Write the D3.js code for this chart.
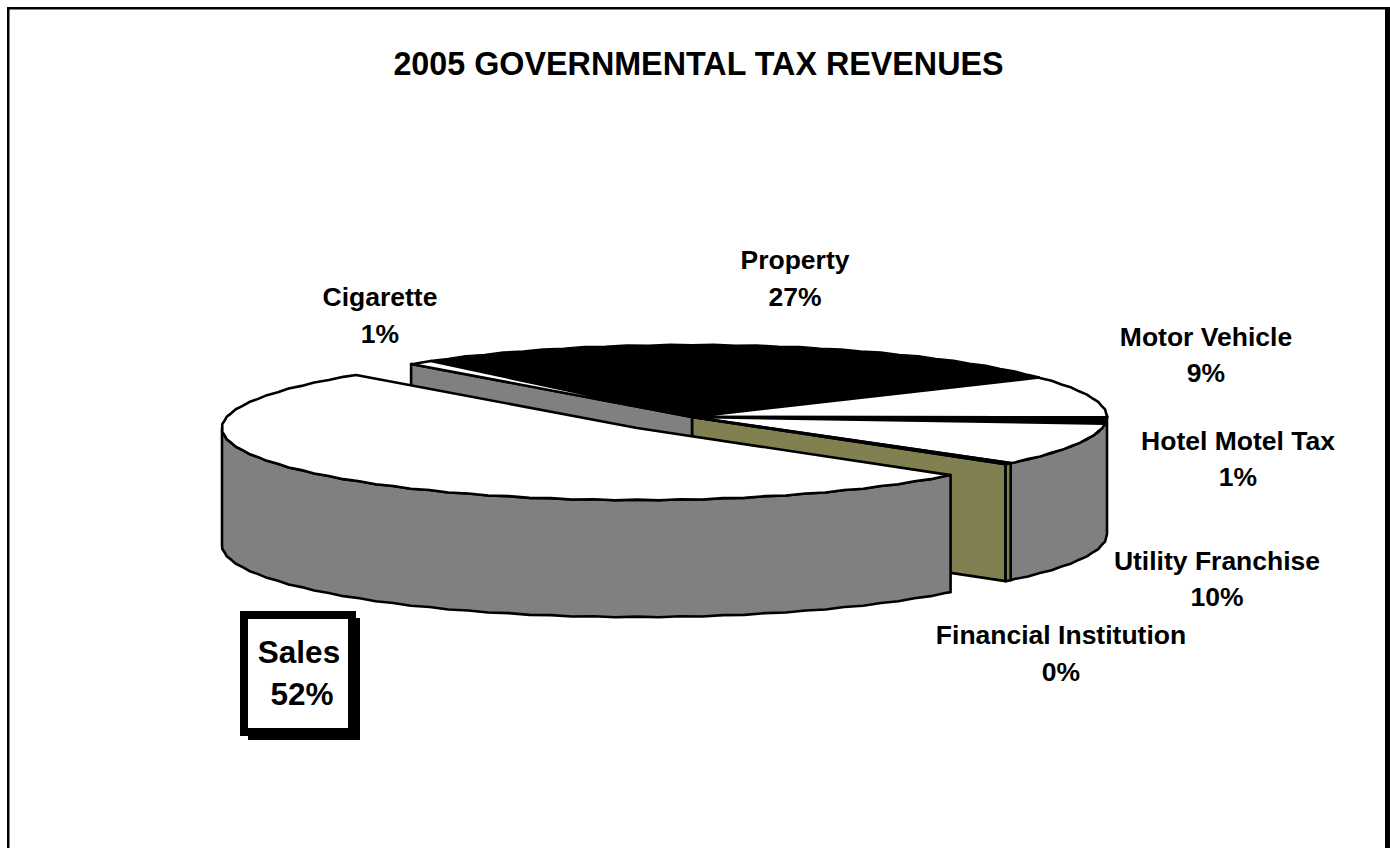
<!DOCTYPE html>
<html>
<head>
<meta charset="utf-8">
<title>2005 Governmental Tax Revenues</title>
<script src="https://cdn.jsdelivr.net/npm/d3@7/dist/d3.min.js"></script>
<style>
  html, body { margin: 0; padding: 0; background: #fff; overflow: hidden; }
  svg { display: block; }
  text { font-family: "Liberation Sans", Arial, sans-serif; font-weight: 700; fill: #000; }
</style>
</head>
<body>
<svg id="chart" width="1390" height="848"></svg>
<script>
// Revenue shares, in percent, clockwise from the Property slice
const categories = ["Property", "Motor Vehicle", "Hotel Motel Tax", "Utility Franchise", "Financial Institution", "Sales", "Cigarette"];
const shares = [26.6, 9.3, 1.4, 9.6, 0.3, 51.8, 1.0];
const chartTitle = "2005 GOVERNMENTAL TAX REVENUES";

// Slice styling, same order as the categories
const topColors = ["#000000", "#ffffff", "#000000", "#ffffff", "#ffffff", "#ffffff", "#ffffff"];
const sideColors = ["#000000", "#808080", "#808080", "#808080", "#808050", "#808080", "#808080"];
const explodedSlice = "Sales";

// Label layout: centre x and the baseline of each of the two lines
const labelLayout = new Map([
  ["Property", [795, 269, 306]],
  ["Motor Vehicle", [1206, 346, 382]],
  ["Hotel Motel Tax", [1238, 450, 486]],
  ["Utility Franchise", [1217, 570, 606]],
  ["Financial Institution", [1061, 644, 681]],
  ["Cigarette", [380, 306, 343]]
]);

const svg = d3.select("#chart");
const W = 1390, H = 848;

// Outer frame; the bottom edge falls beyond the page
svg.append("rect").attr("x", 7).attr("y", 7).attr("width", 2.5).attr("height", H).attr("fill", "#000");
svg.append("rect").attr("x", 7).attr("y", 7).attr("width", W).attr("height", 2.5).attr("fill", "#000");
svg.append("rect").attr("x", 1385).attr("y", 7).attr("width", 5).attr("height", H).attr("fill", "#000");

svg.append("text").attr("x", 698.5).attr("y", 75)
  .attr("text-anchor", "middle").style("font-size", "32.3px").text(chartTitle);

// Tilted pie geometry
const rx = 415, ry = 72, depth = 117;
const centre = { x: 692, y: 417 };
const explodeOffset = { x: -55, y: 11 };
const toRad = Math.PI / 180;

const pie = d3.pie().sort(null).value(d => d.share)
  .startAngle((231 + 90) * toRad).endAngle((231 + 90 + 360) * toRad);

const slices = pie(categories.map((name, i) => ({
  name, share: shares[i], top: topColors[i], side: sideColors[i]
}))).map(s => ({
  ...s,
  // screen angle in degrees, 0 at 3 o'clock, increasing clockwise
  a0: s.startAngle / toRad - 90,
  a1: s.endAngle / toRad - 90,
  origin: s.data.name === explodedSlice
    ? { x: centre.x + explodeOffset.x, y: centre.y + explodeOffset.y }
    : centre
}));

// Scales from the unit circle to the tilted ellipse of a slice's origin
const scaleX = o => d3.scaleLinear().domain([-1, 1]).range([o.x - rx, o.x + rx]);
const scaleY = o => d3.scaleLinear().domain([-1, 1]).range([o.y - ry, o.y + ry]);
const rimPoint = (o, deg) => [scaleX(o)(Math.cos(deg * toRad)), scaleY(o)(Math.sin(deg * toRad))];

// Rim outline as short chords with a slight alternating wobble, like a plotted pen line
function rim(o, a0, a1, step = 3) {
  const pts = [rimPoint(o, a0)];
  let k = 0;
  for (let a = Math.ceil(a0 / step) * step; a < a1; a += step) {
    if (a <= a0) continue;
    const p = rimPoint(o, a);
    const w = (k++ % 2 ? 0.35 : -0.35);
    pts.push([p[0] + w * Math.cos(a * toRad), p[1] + w * Math.sin(a * toRad)]);
  }
  pts.push(rimPoint(o, a1));
  return pts;
}
const closed = d3.line();
const poly = pts => closed(pts) + "Z";
const drop = p => [p[0], p[1] + depth];

function drawShape(layer, pts, fill) {
  layer.append("path").attr("d", poly(pts)).attr("fill", fill)
    .attr("stroke", "#000").attr("stroke-width", 2.6).attr("stroke-linejoin", "round");
}

// Normalise a slice's angles so the visible front range 0..180 can be clipped out
function frontRange(s) {
  for (const shift of [0, -360, 360]) {
    const lo = Math.max(s.a0 + shift, 0), hi = Math.min(s.a1 + shift, 180);
    if (hi > lo) return [lo, hi];
  }
  return null;
}
function drawWall(layer, origin, lo, hi, fill) {
  const arc = rim(origin, lo, hi);
  drawShape(layer, arc.concat(arc.slice().reverse().map(drop)), fill);
}

const gapAt = i => slices[(i + slices.length) % slices.length];
const explodedIndex = slices.findIndex(s => s.data.name === explodedSlice);
const g = svg.append("g");

// Cut faces bared by pulling the exploded slice out
const before = gapAt(explodedIndex - 1), after = gapAt(explodedIndex + 1);
[[before, before.a1], [after, after.a0]].forEach(([s, deg]) => {
  const edge = rimPoint(centre, deg), hub = [centre.x, centre.y];
  drawShape(g, [hub, edge, drop(edge), drop(hub)], s.data.side);
});

// Front wall of the pie body; neighbouring slices of one side colour share a single panel
const panels = [];
slices.filter(s => s.data.name !== explodedSlice).forEach(s => {
  const r = frontRange(s);
  if (!r) return;
  const last = panels[panels.length - 1];
  if (last && last.fill === s.data.side && Math.abs(last.hi - r[0]) < 1e-6) last.hi = r[1];
  else panels.push({ lo: r[0], hi: r[1], fill: s.data.side });
});
panels.forEach(p => drawWall(g, centre, p.lo, p.hi, p.fill));

slices.filter(s => s.data.name !== explodedSlice).forEach(s => {
  drawShape(g, [[s.origin.x, s.origin.y], ...rim(s.origin, s.a0, s.a1)], s.data.top);
});

// Exploded slice sits in front of everything else
const ex = slices[explodedIndex];
const exRange = frontRange(ex);
drawWall(g, ex.origin, exRange[0], exRange[1], ex.data.side);
drawShape(g, [[ex.origin.x, ex.origin.y], ...rim(ex.origin, ex.a0, ex.a1)], ex.data.top);

// Percent labels, rounded from the shares
const pct = v => d3.format(".0f")(v) + "%";
slices.forEach(s => {
  const l = labelLayout.get(s.data.name);
  if (!l) return;
  const t = svg.append("g").attr("text-anchor", "middle").style("font-size", "26.5px");
  t.append("text").attr("x", l[0]).attr("y", l[1]).text(s.data.name);
  t.append("text").attr("x", l[0]).attr("y", l[2]).text(pct(s.data.share));
});

// Boxed callout for the exploded slice
svg.append("rect").attr("x", 248).attr("y", 618).attr("width", 112).attr("height", 122).attr("fill", "#000");
svg.append("rect").attr("x", 244).attr("y", 615).attr("width", 108).attr("height", 117)
  .attr("fill", "#fff").attr("stroke", "#000").attr("stroke-width", 8);
const exLabel = svg.append("g").style("font-size", "31.5px").attr("text-anchor", "middle");
exLabel.append("text").attr("x", 299).attr("y", 663).text(ex.data.name);
exLabel.append("text").attr("x", 302).attr("y", 705).text(pct(ex.data.share));
</script>
</body>
</html>
